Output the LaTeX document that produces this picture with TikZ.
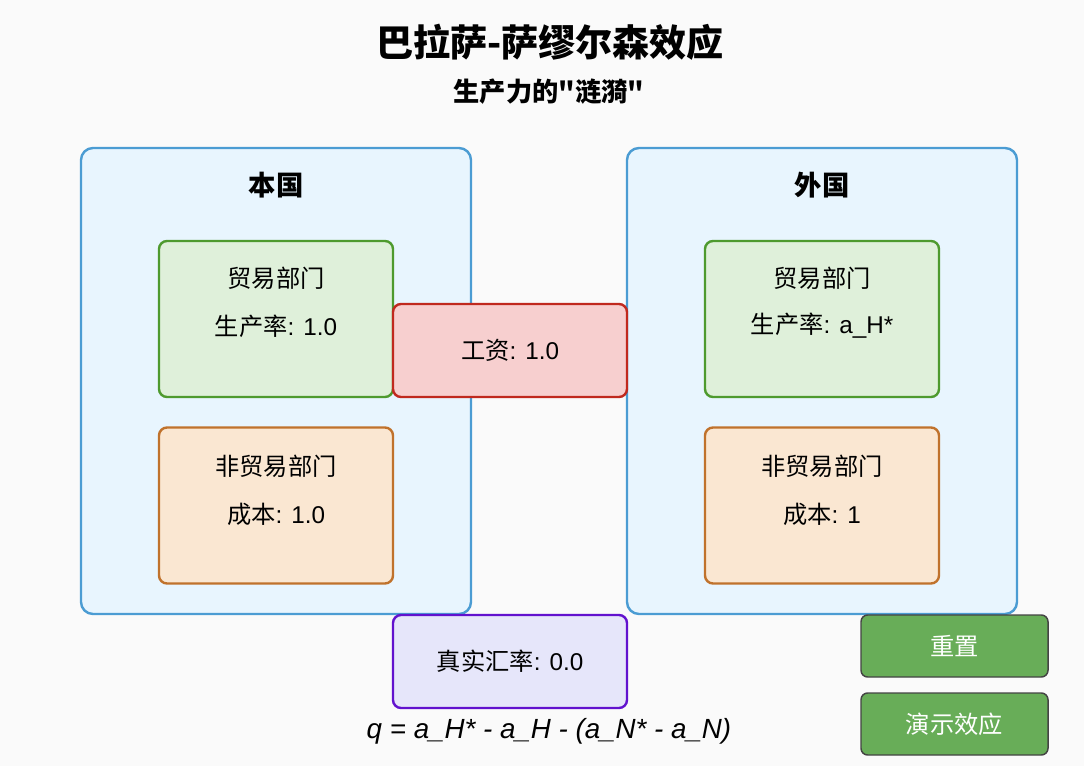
\documentclass[tikz,border=0pt]{standalone}
\usepackage{fontspec}
\setmainfont{Liberation Sans}
\newfontfamily\cjk{Noto Sans CJK SC}
\definecolor{bgc}{HTML}{FAFAFA}
\definecolor{ctyfill}{HTML}{E8F5FE}
\definecolor{ctydraw}{HTML}{4B9CD3}
\definecolor{grfill}{HTML}{DFF0DA}
\definecolor{grdraw}{HTML}{4E9A2E}
\definecolor{orfill}{HTML}{FAE7D2}
\definecolor{ordraw}{HTML}{C0722C}
\definecolor{rdfill}{HTML}{F7CFCF}
\definecolor{rddraw}{HTML}{C0291E}
\definecolor{pufill}{HTML}{E6E6FA}
\definecolor{pudraw}{HTML}{6212CE}
\definecolor{btfill}{HTML}{68AD58}
\definecolor{btdraw}{HTML}{444444}
\tikzset{
  box/.style={rectangle, rounded corners=6pt, line width=1.8pt, inner sep=0pt},
  cty/.style={box, fill=ctyfill, draw=ctydraw, minimum width=292.5pt, minimum height=349.5pt, rounded corners=9pt},
  sector/.style={box, minimum width=175.5pt, minimum height=117pt},
  trad/.style={sector, fill=grfill, draw=grdraw},
  ntrad/.style={sector, fill=orfill, draw=ordraw},
  mid/.style={box, minimum width=175.5pt, minimum height=69.75pt, font=\fontsize{18.2}{22}\selectfont},
  btn/.style={rectangle, rounded corners=5pt, line width=1.1pt, fill=btfill, draw=btdraw, minimum width=140.25pt, minimum height=46.5pt, text=white, font=\cjk\fontsize{18.2}{22}\selectfont},
  lbl/.style={inner sep=0pt, font=\fontsize{18.2}{22}\selectfont},
  ctitle/.style={inner sep=0pt, font=\cjk\bfseries\fontsize{20.5}{24}\selectfont},
}
\begin{document}
\begin{tikzpicture}[x=0.75pt,y=-0.75pt]
\fill[bgc] (0,0) rectangle (1084,766);
\useasboundingbox (0,0) rectangle (1084,766);

\node[inner sep=0pt, font=\cjk\bfseries\fontsize{27.8}{32}\selectfont] (title) at (550,42) {巴拉萨-萨缪尔森效应};
\node[inner sep=0pt, font=\cjk\bfseries\fontsize{19.7}{24}\selectfont] (sub) at (549,92) {生产力的"涟漪"};

\node[cty] (home) at (276,381) {};
\node[cty] (foreign) at (822,381) {};
\node[ctitle] (homet) at (276,185) {本国};
\node[ctitle] (foreignt) at (822,185) {外国};

\node[trad] (htr) at (276,319) {};
\node[lbl] (htr1) at (276,278) {\cjk 贸易部门};
\node[lbl] (htr2) at (276,326) {{\cjk 生产率}: 1.0};

\node[ntrad] (hnt) at (276,505.5) {};
\node[lbl] (hnt1) at (276,466) {\cjk 非贸易部门};
\node[lbl] (hnt2) at (276,514) {{\cjk 成本}: 1.0};

\node[trad] (ftr) at (822,319) {};
\node[lbl] (ftr1) at (822,278) {\cjk 贸易部门};
\node[lbl] (ftr2) at (822,326) {{\cjk 生产率}: a\_H*};

\node[ntrad] (fnt) at (822,505.5) {};
\node[lbl] (fnt1) at (822,466) {\cjk 非贸易部门};
\node[lbl] (fnt2) at (822,514) {{\cjk 成本}: 1};

\node[mid, fill=rdfill, draw=rddraw] (wage) at (510,350.5) {{\cjk 工资}: 1.0};
\node[mid, fill=pufill, draw=pudraw] (rer) at (510,661.5) {{\cjk 真实汇率}: 0.0};

\node[inner sep=0pt, font=\itshape\fontsize{20.8}{24}\selectfont] (formula) at (549,731) {q = a\_H* - a\_H - (a\_N* - a\_N)};

\node[btn] (reset) at (954.5,646) {重置};
\node[btn] (demo) at (954.5,724) {演示效应};
\end{tikzpicture}
\end{document}
